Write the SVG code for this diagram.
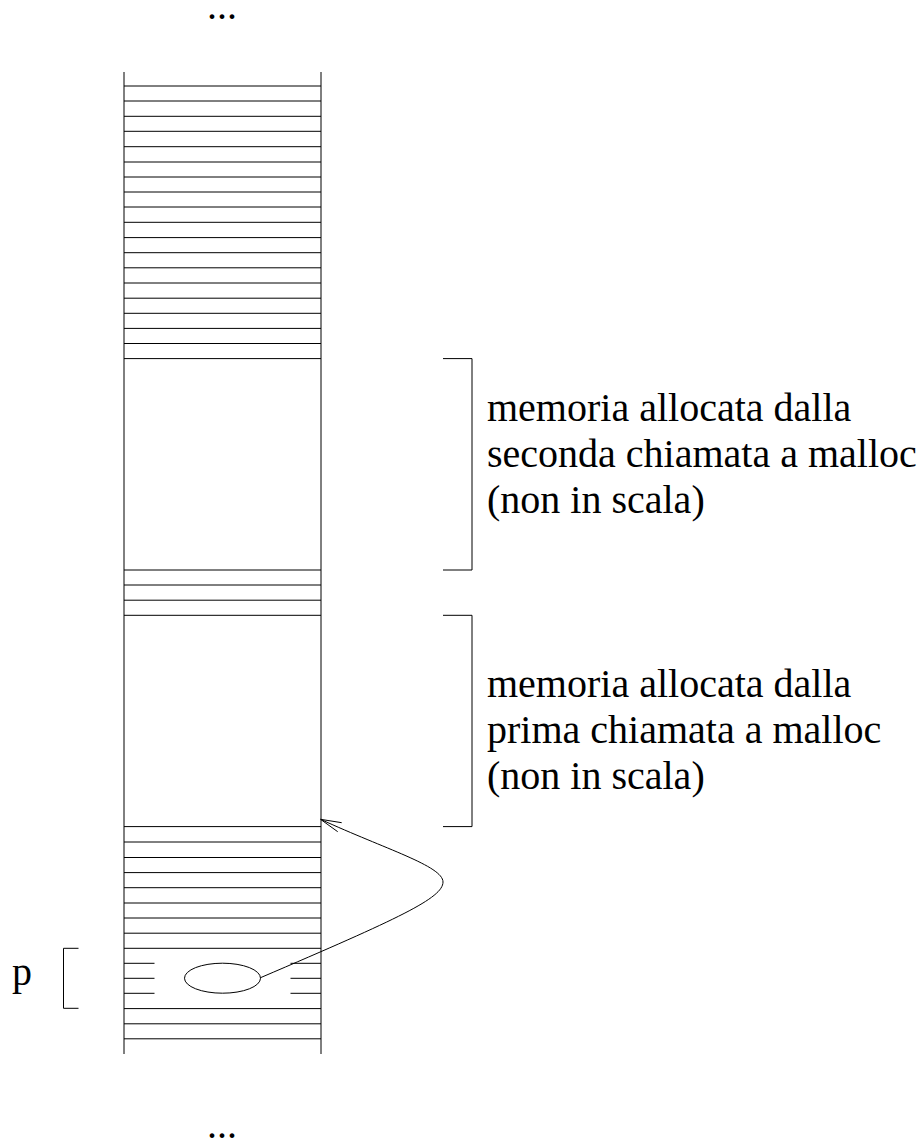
<svg xmlns="http://www.w3.org/2000/svg" width="923" height="1141" viewBox="0 0 923 1141">
<style>
.ln{stroke:#000;stroke-width:1;fill:none}
.t{font-family:"Liberation Serif","Times New Roman",serif;font-size:40px;fill:#000}
</style>
<rect width="923" height="1141" fill="#fff"/>
<g id="dots-top"><text class="t" x="207" y="19">...</text></g>
<g id="memory-column" class="ln">
<path d="M124,72V1054M321,72V1054"/>
<path d="M124,86H321M124,101H321M124,116.3H321M124,131.3H321M124,146.7H321M124,162H321M124,177H321M124,192H321M124,207H321M124,222.3H321M124,237.6H321M124,252.7H321M124,267.8H321M124,283H321M124,298.2H321M124,313.3H321M124,328.4H321M124,343.5H321M124,358.6H321"/>
<path d="M124,570H321M124,585H321M124,600.2H321M124,615.3H321"/>
<path d="M124,826.6H321M124,842H321M124,857.5H321M124,872.6H321M124,887.7H321M124,903H321M124,918H321M124,933.2H321M124,948.3H321"/>
<path d="M124,963.3H154.5M124,978.3H154.5M124,993.3H154.5M290.5,963.3H321M290.5,978.3H321M290.5,993.3H321"/>
<path d="M124,1008.6H321M124,1023.8H321M124,1038.8H321"/>
</g>
<g id="pointer-p">
<ellipse class="ln" cx="222.5" cy="978.2" rx="38" ry="15"/>
</g>
<g id="label-p">
<text class="t" x="12" y="985">p</text>
<path class="ln" d="M78.5,948.3H63.5V1008.3H78.5"/>
</g>
<g id="block-second">
<path class="ln" d="M443,358.6H472V570H443"/>
<text class="t" x="487" y="421">memoria allocata dalla</text>
<text class="t" x="487" y="467">seconda chiamata a malloc</text>
<text class="t" x="487" y="513">(non in scala)</text>
</g>
<g id="block-first">
<path class="ln" d="M443,615.3H472V826.6H443"/>
<text class="t" x="487" y="697">memoria allocata dalla</text>
<text class="t" x="487" y="743">prima chiamata a malloc</text>
<text class="t" x="487" y="789">(non in scala)</text>
</g>
<g id="connectors" class="ln">
<path d="M260.5,977.7C400,918 443,898 443,882C443,866 385,849 321,819.5"/>
<path d="M341.7,822.7L320.5,819.3L337.7,831.7"/>
</g>
<g id="dots-bottom"><text class="t" x="207" y="1138">...</text></g>
</svg>
